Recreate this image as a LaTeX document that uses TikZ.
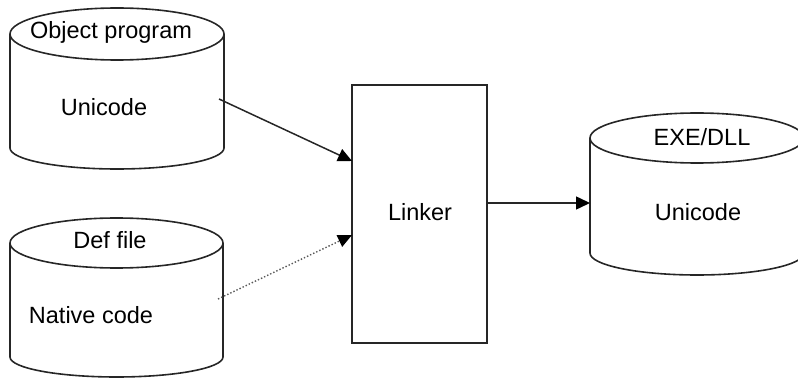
\documentclass[tikz,border=0pt]{standalone}
\usepackage{fontspec}
\setmainfont{Liberation Sans}
\usetikzlibrary{arrows.meta}
\newcommand{\dbcyl}[6]{% cx, rx, ytopcenter, rytop, ybottom, rybottom
  \draw[cylline] (#1-#2,#3) -- (#1-#2,#5)
     arc[start angle=180,end angle=360,x radius=#2,y radius=#6] -- (#1+#2,#3);
  \draw[cylline] (#1,#3) ellipse[x radius=#2,y radius=#4];
}
\tikzset{
  cylline/.style={line width=1.6pt, draw=black!85},
  lbl/.style={inner sep=0pt, font=\fontsize{23.5}{28}\selectfont, text=black},
  conn/.style={line width=1.5pt, draw=black!85, -{Triangle[length=14pt,width=13pt,black]}},
  dotconn/.style={line width=1.4pt, draw=black!65, dotted, -{Triangle[length=14pt,width=13pt,black,line width=0pt]}},
  boxstyle/.style={draw=black!85, line width=1.7pt, minimum width=135pt, minimum height=258pt, inner sep=0pt}
}
\begin{document}
\begin{tikzpicture}[x=1pt,y=1pt]
\useasboundingbox (0,0) rectangle (798,378);
% cylinders
\dbcyl{117}{107}{344}{26}{230}{21}
\dbcyl{116.5}{106.5}{135}{25}{21}{20}
\dbcyl{697}{107}{240}{25}{125}{22}
% texts
\node[lbl] (obj) at (111,346) {Object program};
\node[lbl] (uni1) at (104,271) {Unicode};
\node[lbl] (def) at (110,138) {Def file};
\node[lbl] (nat) at (91,63) {Native code};
\node[lbl] (exe) at (702,241) {EXE/DLL};
\node[lbl] (uni3) at (698,166) {Unicode};
% linker box
\node[boxstyle] (linker) at (419.5,164) {};
\node[lbl] (linkertxt) at (420,166) {Linker};
% connector end points
\coordinate (a1s) at (219,279);
\coordinate (a1e) at (352,217);
\coordinate (a2s) at (218,79);
\coordinate (a2e) at (352,143);
\coordinate (a3s) at (487,175);
\coordinate (cyl3w) at (590,175);
\draw[conn] (a1s) -- (a1e);
\draw[dotconn] (a2s) -- (a2e);
\draw[conn] (a3s) -- (cyl3w);
\end{tikzpicture}
\end{document}
